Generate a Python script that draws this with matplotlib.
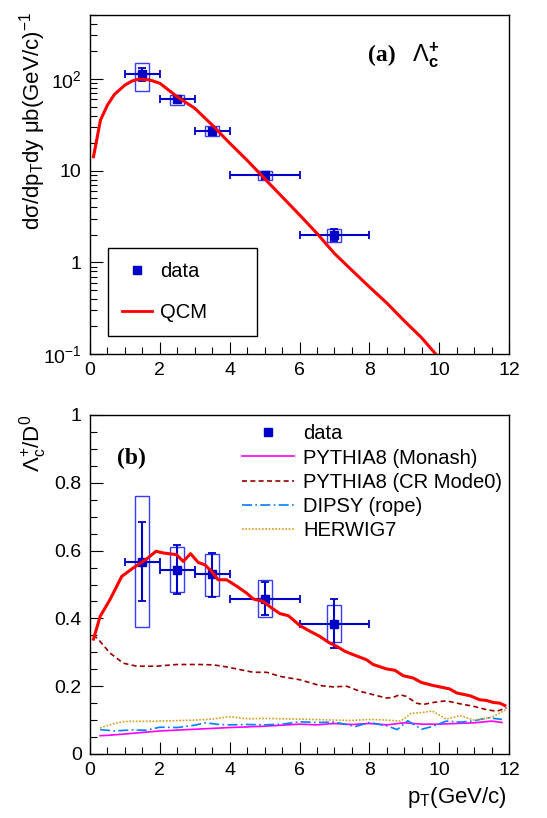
"""
Lambda_c+ spectrum (a) and Lambda_c+/D0 ratio (b) versus pT.
"""

import numpy as np
import matplotlib
matplotlib.use('Agg')
import matplotlib.pyplot as plt
from matplotlib.patches import Rectangle
from matplotlib.ticker import MultipleLocator, FixedLocator, FixedFormatter, LogLocator, NullFormatter

plt.rcParams['font.family'] = ['Liberation Sans', 'DejaVu Sans']
plt.rcParams['mathtext.fontset'] = 'custom'
plt.rcParams['mathtext.rm'] = 'Liberation Sans'
plt.rcParams['mathtext.it'] = 'Liberation Sans:italic'
plt.rcParams['mathtext.bf'] = 'Liberation Sans:bold'

# ---- data points (shared pT bins)
pt = [1.5, 2.5, 3.5, 5.0, 7.0]
pt_lo = [1.0, 2.0, 3.0, 4.0, 6.0]
pt_hi = [2.0, 3.0, 4.0, 6.0, 8.0]

# (a) cross section, ub/(GeV/c)
xs = [113, 60, 27, 9.0, 1.99]
xs_stat_lo = [95, 55, 24.5, 8.2, 1.70]
xs_stat_hi = [131, 65, 29.5, 9.8, 2.32]
xs_sys_lo = [75, 52, 23.9, 7.9, 1.68]
xs_sys_hi = [151, 67, 30.7, 10.0, 2.31]

# QCM curve for (a)
qcm_pt = [0.1, 0.3, 0.5, 0.7, 1.0, 1.2, 1.4, 1.7, 2.0, 2.5, 3.0, 3.5, 4.0, 4.5, 5.0,
          5.5, 6.0, 6.5, 7.0, 7.5, 8.0, 8.5, 9.0, 9.5, 9.9]
qcm_xs = [14.2, 35.7, 52, 68, 86, 95, 100, 98, 90, 64, 48, 31.5, 20, 13, 8.2,
          5.2, 3.3, 2.07, 1.25, 0.82, 0.54, 0.36, 0.23, 0.15, 0.1]

# (b) ratio
ratio = [0.566, 0.544, 0.530, 0.458, 0.384]
ratio_stat_lo = [0.452, 0.472, 0.463, 0.411, 0.312]
ratio_stat_hi = [0.683, 0.617, 0.594, 0.506, 0.458]
ratio_sys_lo = [0.374, 0.477, 0.467, 0.404, 0.329]
ratio_sys_hi = [0.760, 0.611, 0.590, 0.513, 0.440]

qcm_r_pt = [0.1, 0.29, 0.57, 0.91, 1.24, 1.62, 1.89, 2.1, 2.48, 2.67, 2.88, 3.1, 3.29,
            3.48, 3.67, 3.91, 4.2, 4.48, 4.68, 4.96, 5.2, 5.44, 5.68, 6.01, 6.3, 6.58,
            6.87, 7.06, 7.3, 7.54, 7.92, 8.11, 8.49, 8.73, 8.97, 9.26, 9.49, 9.83, 10.3,
            10.5, 10.88, 11.16, 11.35, 11.55, 11.74, 11.88]
qcm_r = [0.339, 0.406, 0.455, 0.524, 0.549, 0.575, 0.598, 0.593, 0.588, 0.568, 0.591,
         0.565, 0.558, 0.539, 0.514, 0.514, 0.495, 0.475, 0.457, 0.450, 0.431, 0.414,
         0.408, 0.379, 0.362, 0.347, 0.327, 0.318, 0.303, 0.293, 0.278, 0.264, 0.251,
         0.247, 0.231, 0.224, 0.211, 0.202, 0.192, 0.180, 0.172, 0.160, 0.158, 0.152,
         0.150, 0.143]

cr_pt = [0.1, 0.29, 0.57, 0.95, 1.34, 1.9, 2.48, 3.15, 3.53, 3.91, 4.29, 4.68, 5.06,
         5.44, 6.01, 6.58, 6.97, 7.35, 7.73, 8.11, 8.49, 8.68, 8.87, 9.06, 9.35, 9.54,
         9.83, 10.2, 10.6, 10.97, 11.35, 11.64, 11.93]
cr_r = [0.352, 0.332, 0.298, 0.268, 0.259, 0.259, 0.264, 0.264, 0.263, 0.257, 0.249,
        0.241, 0.241, 0.229, 0.219, 0.202, 0.198, 0.200, 0.185, 0.175, 0.165, 0.167,
        0.175, 0.170, 0.150, 0.146, 0.152, 0.157, 0.148, 0.141, 0.131, 0.126, 0.136]

monash_pt = [0.29, 0.5, 1.0, 2.0, 3.0, 4.0, 5.0, 5.5, 6.0, 6.5, 7.0, 7.5, 8.0, 8.5, 9.0,
             9.5, 10.0, 10.5, 11.0, 11.5, 11.8]
monash_r = [0.054, 0.055, 0.059, 0.068, 0.073, 0.078, 0.082, 0.085, 0.088, 0.086, 0.090,
            0.087, 0.090, 0.086, 0.092, 0.088, 0.088, 0.090, 0.092, 0.097, 0.093]

dipsy_pt = [0.29, 0.7, 1.2, 1.6, 2.0, 2.5, 3.0, 3.3, 3.7, 4.0, 4.5, 5.0, 5.5, 6.0, 6.5,
            7.0, 7.3, 7.6, 8.0, 8.5, 8.8, 9.1, 9.5, 9.8, 10.2, 10.6, 11.0, 11.4, 11.8]
dipsy_r = [0.072, 0.068, 0.071, 0.070, 0.079, 0.078, 0.085, 0.092, 0.087, 0.086, 0.087,
           0.086, 0.088, 0.095, 0.093, 0.094, 0.088, 0.081, 0.093, 0.083, 0.072, 0.098,
           0.073, 0.081, 0.097, 0.094, 0.098, 0.107, 0.102]

herwig_pt = [0.29, 0.7, 1.0, 2.0, 3.0, 3.5, 4.0, 4.5, 5.0, 6.0, 7.0, 7.5, 8.0, 8.5, 8.9,
             9.2, 9.5, 9.8, 10.2, 10.6, 11.0, 11.5, 11.9]
herwig_r = [0.077, 0.090, 0.096, 0.097, 0.100, 0.103, 0.110, 0.104, 0.105, 0.103, 0.100,
            0.099, 0.102, 0.100, 0.097, 0.120, 0.122, 0.127, 0.103, 0.113, 0.100, 0.108,
            0.130]

DATA_C = '#0000c8'
BOX_C = '#3a3aff'
BOX_HW = 0.2

W, H = 547, 818
fig = plt.figure(figsize=(W / 100, H / 100), dpi=100)
ax1 = fig.add_axes([90 / W, 1 - 354 / H, 419 / W, 339 / H])
ax2 = fig.add_axes([90 / W, 1 - 754 / H, 419 / W, 339 / H])


def style(ax):
    ax.tick_params(which='both', direction='in', top=False, right=False,
                   labelsize=14, width=0.8, pad=6)
    ax.tick_params(which='major', length=9)
    ax.tick_params(which='minor', length=5)
    for s in ax.spines.values():
        s.set_linewidth(1.0)
    ax.set_xlim(0, 12)
    ax.xaxis.set_major_locator(MultipleLocator(2))
    ax.xaxis.set_minor_locator(MultipleLocator(0.5))


def draw_points(ax, y, ylo, yhi, slo, shi):
    x = np.array(pt)
    y = np.array(y)
    for xi, lo, hi in zip(x, slo, shi):
        ax.add_patch(Rectangle((xi - BOX_HW, lo), 2 * BOX_HW, hi - lo, fill=False,
                               edgecolor=BOX_C, lw=1.0, zorder=3))
    xerr = [x - np.array(pt_lo), np.array(pt_hi) - x]
    yerr = [y - np.array(ylo), np.array(yhi) - y]
    ax.errorbar(x, y, xerr=xerr, yerr=yerr, fmt='s', color=DATA_C, ms=5.5,
                elinewidth=1.5, capsize=3, capthick=1.3, zorder=4)


# ---------------- panel (a)
style(ax1)
ax1.set_yscale('log')
ax1.set_ylim(0.1, 500)
ax1.yaxis.set_major_locator(FixedLocator([0.1, 1, 10, 100]))
ax1.yaxis.set_major_formatter(FixedFormatter([r'$10^{-1}$', '1', '10', r'$10^{2}$']))
ax1.yaxis.set_minor_locator(LogLocator(base=10, subs=np.arange(2, 10)))
ax1.yaxis.set_minor_formatter(NullFormatter())

draw_points(ax1, xs, xs_stat_lo, xs_stat_hi, xs_sys_lo, xs_sys_hi)
ax1.plot(qcm_pt, qcm_xs, color='#ff0000', lw=2.2, zorder=5)

h_data = ax1.plot([], [], 's', color=DATA_C, ms=5.5, label='data')[0]
h_qcm = ax1.plot([], [], color='#ff0000', lw=2.0, label='QCM')[0]
leg1 = ax1.legend(handles=[h_data, h_qcm], loc='upper left', mode='expand',
                  bbox_to_anchor=(18 / 419, 103 / 339, 149 / 419, 0.01), fontsize=14.5,
                  fancybox=False, edgecolor='black', framealpha=1, labelspacing=1.1,
                  handlelength=1.5, handletextpad=0.4, borderpad=0.7, borderaxespad=0)
leg1.get_frame().set_linewidth(1.0)

fig.text(368 / W, 1 - 55 / H, '(a)', fontsize=17, fontweight='bold',
         family='Liberation Serif', va='center', ha='left')
fig.text(412 / W, 1 - 55 / H, r'$\Lambda_{\mathbf{c}}^{\mathbf{+}}$',
         fontsize=17, va='center', ha='left')

fig.text(33 / W, 1 - 12 / H, 'dσ/dp$_{\\mathrm{T}}$dy μb(GeV/c)$^{-1}$',
         rotation=90, ha='center', va='top', fontsize=16)

# ---------------- panel (b)
style(ax2)
ax2.set_ylim(0, 1)
ax2.yaxis.set_major_locator(MultipleLocator(0.2))
ax2.yaxis.set_minor_locator(MultipleLocator(0.05))
ax2.yaxis.set_major_formatter(plt.FuncFormatter(lambda v, p: '%g' % round(v, 2)))

draw_points(ax2, ratio, ratio_stat_lo, ratio_stat_hi, ratio_sys_lo, ratio_sys_hi)
ax2.plot(qcm_r_pt, qcm_r, color='#ff0000', lw=2.2, zorder=5)
l_mon = ax2.plot(monash_pt, monash_r, color='#ff00ff', lw=1.2, label='PYTHIA8 (Monash)')[0]
l_cr = ax2.plot(cr_pt, cr_r, color='#990000', lw=1.2, ls=(0, (3, 2)),
                label='PYTHIA8 (CR Mode0)')[0]
l_dip = ax2.plot(dipsy_pt, dipsy_r, color='#0080ff', lw=1.2, ls=(0, (6, 2, 1, 2)),
                 label='DIPSY (rope)')[0]
l_her = ax2.plot(herwig_pt, herwig_r, color='#d4a020', lw=1.2, ls=(0, (1, 1)),
                 label='HERWIG7')[0]
h_data2 = ax2.plot([], [], 's', color=DATA_C, ms=5.5, label='data')[0]

ax2.legend(handles=[h_data2, l_mon, l_cr, l_dip, l_her], loc='upper left',
           bbox_to_anchor=(152 / 419, 0.972), fontsize=14.5, frameon=False,
           labelspacing=0.25, handlelength=2.6, handletextpad=0.45, borderpad=0,
           borderaxespad=0)

fig.text(117 / W, 1 - 458 / H, '(b)', fontsize=17, fontweight='bold',
         family='Liberation Serif', va='center', ha='left')

fig.text(33 / W, 1 - 415 / H, r'$\Lambda_{\mathrm{c}}^{+}$/D$^{0}$',
         rotation=90, ha='center', va='top', fontsize=16)
fig.text(507 / W, 1 - 798 / H, r'p$_{\mathrm{T}}$(GeV/c)', ha='right', va='center',
         fontsize=16)

fig.savefig('out.png', dpi=100)
